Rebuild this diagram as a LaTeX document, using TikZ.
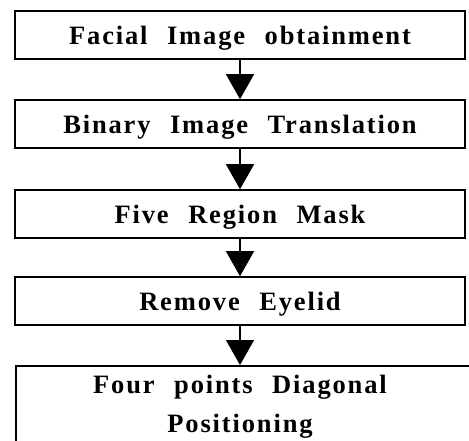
\documentclass[tikz,border=0pt]{standalone}
\usepackage{fontspec}
\setmainfont{Liberation Serif}[LetterSpace=7,WordSpace=2.3]
\usepackage{tikz}
\usetikzlibrary{arrows.meta}

\begin{document}
\begin{tikzpicture}[x=1pt, y=-1pt,
    stage/.style={draw, line width=1.6pt, minimum width=450pt,
      minimum height=48pt, inner sep=0pt, text height=18pt, text depth=0pt,
      font=\fontsize{26.5}{39}\selectfont\bfseries, align=center},
    flow/.style={line width=1.4pt, -{Triangle[width=28pt, length=25pt]}}]
  \useasboundingbox (0,0) rectangle (469,440);
  \node[stage] (face)   at (240,35)  {Facial Image obtainment};
  \node[stage] (binary) at (240,124) {Binary Image Translation};
  \node[stage] (mask)   at (240,214) {Five Region Mask};
  \node[stage] (eyelid) at (240,301) {Remove Eyelid};
  \node[stage, minimum width=470pt, minimum height=84pt, anchor=north west]
    (diag) at (15,365) {};
  \node[font=\fontsize{26.5}{39}\selectfont\bfseries, align=center] (diagtext)
    at (240,407) {Four points Diagonal\\Positioning};
  \draw[flow] (face) -- (binary);
  \draw[flow] (binary) -- (mask);
  \draw[flow] (mask) -- (eyelid);
  \draw[flow] (eyelid) -- (diag.north -| eyelid);
\end{tikzpicture}
\end{document}
